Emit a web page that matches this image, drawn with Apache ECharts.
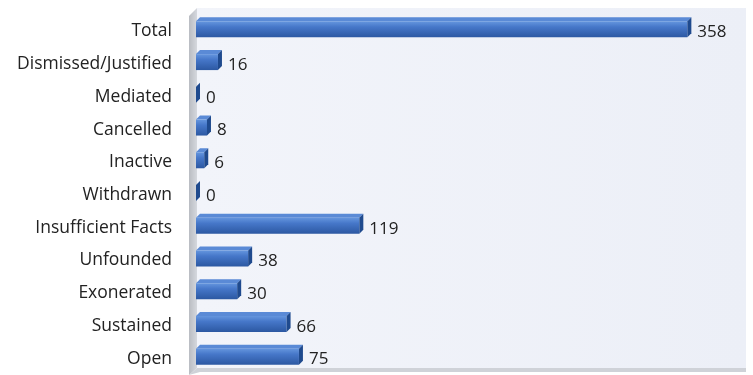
<!DOCTYPE html>
<html>
<head>
<meta charset="utf-8">
<script src="https://cdn.jsdelivr.net/npm/echarts@6/dist/echarts.min.js"></script>
<style>
  html, body { margin: 0; padding: 0; background: #ffffff; }
  #chart { width: 753px; height: 375px; }
</style>
</head>
<body>
<div id="chart"></div>
<script>
// Complaint dispositions, listed bottom to top
const categories = ['Open', 'Sustained', 'Exonerated', 'Unfounded', 'Insufficient Facts',
  'Withdrawn', 'Inactive', 'Cancelled', 'Mediated', 'Dismissed/Justified', 'Total'];
const counts = [75, 66, 30, 38, 119, 0, 6, 8, 0, 16, 358];
const axisMin = 0;
const axisMax = 400;

const chart = echarts.init(document.getElementById('chart'));

const GRID = { left: 196, top: 15, width: 549, height: 361 };
const DEPTH = 4;       // 3-D extrusion offset
const BAR_H = 16;      // front face height
const LIFT = 4;        // bars sit slightly behind the category centre
const FONT = '"Open Sans", sans-serif';

function renderBar(params, api) {
  const cat = api.value(0);
  const val = api.value(1);
  const p0 = api.coord([0, cat]);
  const p1 = api.coord([val, cat]);
  const x0 = p0[0], x1 = p1[0];
  const yc = p0[1] - LIFT;
  const yTop = yc - BAR_H / 2 + DEPTH / 2;
  const yBot = yTop + BAR_H;
  const front = {
    type: 'rect',
    shape: { x: x0, y: yTop, width: Math.max(x1 - x0, 0), height: BAR_H },
    style: {
      fill: new echarts.graphic.LinearGradient(0, 0, 0, 1, [
        { offset: 0, color: '#6596de' },
        { offset: 0.35, color: '#4677c9' },
        { offset: 1, color: '#2c58a2' }
      ])
    }
  };
  const top = {
    type: 'polygon',
    shape: { points: [[x0, yTop], [x0 + DEPTH, yTop - DEPTH], [x1 + DEPTH, yTop - DEPTH], [x1, yTop]] },
    style: { fill: '#5a8ad6' }
  };
  const side = {
    type: 'polygon',
    shape: { points: [[x1, yTop], [x1 + DEPTH, yTop - DEPTH], [x1 + DEPTH, yBot - DEPTH], [x1, yBot]] },
    style: { fill: '#1f4a8e' }
  };
  const label = {
    type: 'text',
    style: {
      text: String(val),
      x: x1 + DEPTH + 6,
      y: p0[1] + 1,
      verticalAlign: 'middle',
      align: 'left',
      font: '17px ' + FONT,
      fill: '#222222'
    }
  };
  return { type: 'group', children: [top, front, side, label] };
}

chart.setOption({
  animation: false,
  backgroundColor: '#ffffff',
  graphic: [
    // back wall
    {
      type: 'rect', z: -10,
      shape: { x: 197, y: 8, width: 549, height: 360 },
      style: {
        fill: new echarts.graphic.LinearGradient(0, 0, 1, 0, [
          { offset: 0, color: '#f2f4fa' },
          { offset: 1, color: '#eceff7' }
        ])
      }
    },
    // side wall on the left
    {
      type: 'polygon', z: -9,
      shape: { points: [[189, 16], [197, 8], [197, 368], [189, 375]] },
      style: {
        fill: new echarts.graphic.LinearGradient(0, 0, 1, 0, [
          { offset: 0, color: '#b9bcc2' },
          { offset: 1, color: '#d5d8de' }
        ])
      }
    },
    // floor edge
    {
      type: 'polygon', z: -9,
      shape: { points: [[189, 375], [197, 368], [746, 368], [746, 372], [200, 372]] },
      style: { fill: '#cfd2d8' }
    }
  ],
  grid: GRID,
  xAxis: {
    type: 'value', min: axisMin, max: axisMax,
    show: false
  },
  yAxis: {
    type: 'category', data: categories,
    axisLine: { show: false }, axisTick: { show: false },
    axisLabel: {
      margin: 24, color: '#222222',
      fontFamily: FONT, fontSize: 17.5
    }
  },
  series: [{
    type: 'custom',
    renderItem: renderBar,
    encode: { x: 1, y: 0 },
    data: counts.map((v, i) => [i, v])
  }]
});
</script>
</body>
</html>
